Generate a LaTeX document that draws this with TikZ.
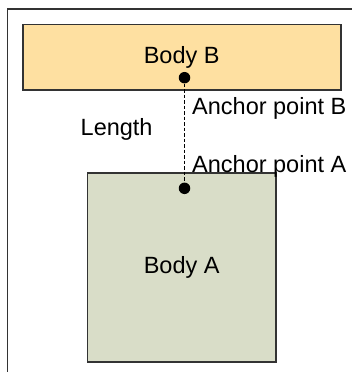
\documentclass[tikz,border=0pt]{standalone}
\usepackage{fontspec}
\setmainfont{Liberation Sans}
\usepackage{xcolor}
\definecolor{bodyorange}{RGB}{254,224,161}
\definecolor{bodygreen}{RGB}{217,221,200}
\definecolor{edgegrey}{RGB}{51,51,51}
\usetikzlibrary{positioning,calc}
\tikzset{
  body/.style={draw=edgegrey, line width=1.6pt, inner sep=0pt, font=\fontsize{23.5}{27}\selectfont},
  anchordot/.style={circle, fill=black, inner sep=0pt, minimum size=11.5pt},
  lbl/.style={inner sep=0pt, anchor=base west, font=\fontsize{23.5}{27}\selectfont},
  link/.style={line width=0.9pt, dash pattern=on 3.5pt off 2pt}
}
\begin{document}
\begin{tikzpicture}[x=1pt, y=-1pt]
  \useasboundingbox (0,0) rectangle (351,372);
  % frame
  \draw[edgegrey, line width=1.6pt] (7.5,373) -- (7.5,9) -- (352,9);
  \node[body, fill=bodyorange, minimum width=318pt, minimum height=65.7pt] (bodyB) at (181.7,57.2) {Body B};
  \node[body, fill=bodygreen, minimum width=188.7pt, minimum height=189pt] (bodyA) at (181.7,267.2) {Body A};
  \node[anchordot] (dotB) at (184.5,77.7) {};
  \node[anchordot] (dotA) at (184.5,188.3) {};
  \draw[link] (dotB) -- (dotA);
  \node[lbl] (lblB) at (192,114) {Anchor point B};
  \node[lbl] (lblA) at (192,172.5) {Anchor point A};
  \node[lbl] (lblLen) at (80.5,135) {Length};
\end{tikzpicture}
\end{document}
